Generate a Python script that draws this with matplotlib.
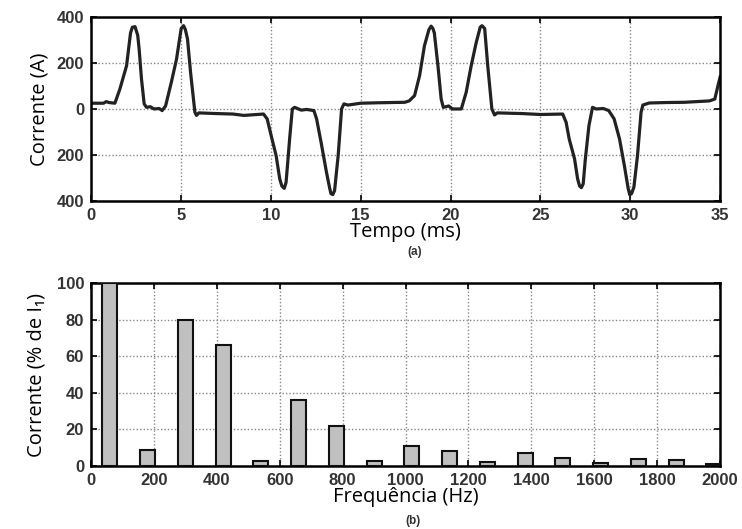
import numpy as np
import matplotlib.pyplot as plt

plt.rcParams['font.family'] = ['Open Sans', 'DejaVu Sans']

# (a) corrente no tempo
tempo_ms = [0.0, 0.7, 0.85, 1.0, 1.33, 1.61, 1.98, 2.2, 2.3, 2.45, 2.6, 2.68, 2.81, 2.96, 3.09,
            3.3, 3.5, 3.8, 3.96, 4.15, 4.47, 4.76, 4.94, 5.02, 5.15, 5.25, 5.37, 5.54, 5.78, 5.87,
            6.0, 7.0, 7.9, 8.5, 9.6, 9.8, 10.0, 10.3, 10.5, 10.62, 10.75, 10.85, 10.9, 11.05, 11.2,
            11.33, 11.7, 12.0, 12.4, 12.55, 12.8, 13.1, 13.28, 13.35, 13.45, 13.55, 13.75, 13.94,
            14.07, 14.3, 15.0, 16.0, 17.45, 17.7, 18.0, 18.28, 18.55, 18.8, 18.92, 19.02, 19.1,
            19.3, 19.48, 19.6, 19.9, 20.1, 20.6, 20.87, 21.15, 21.43, 21.65, 21.75, 21.9, 22.07,
            22.3, 22.45, 22.6, 24.0, 25.0, 26.24, 26.43, 26.6, 26.9, 27.07, 27.18, 27.28, 27.38,
            27.5, 27.7, 27.9, 28.1, 28.5, 28.8, 29.1, 29.4, 29.67, 29.88, 29.97, 30.07, 30.2, 30.4,
            30.6, 30.7, 31.05, 32.0, 33.0, 34.4, 34.7, 34.9, 35.0]
corrente_a = [25, 25, 32, 28, 25, 87, 188, 330, 355, 358, 320, 260, 130, 22, 7,
              10, 0, 2, -7, 13, 116, 217, 310, 350, 362, 345, 304, 159, -14, -28,
              -17, -20, -22, -28, -22, -43, -108, -203, -304, -335, -345, -320, -275, -130, 0,
              7, -5, -2, -7, -43, -145, -275, -345, -368, -372, -355, -203, 0,
              22, 17, 25, 27, 29, 35, 58, 145, 275, 345, 360, 350, 330,
              188, 43, 7, 13, 0, 0, 72, 188, 289, 355, 362, 350, 188,
              0, -26, -17, -20, -24, -22, -58, -130, -217, -304, -335, -342, -325,
              -217, -72, 7, 0, 2, -7, -43, -130, -246, -345, -373, -368, -340, -203,
              -14, 17, 26, 28, 29, 35, 43, 109, 140]

# (b) espectro harmônico
freq_hz = [60, 180, 300, 420, 540, 660, 780, 900, 1020, 1140, 1260, 1380, 1500, 1620, 1740, 1860, 1980]
harm_pct = [100, 9, 80, 66, 2.7, 36, 22, 3, 10.9, 8.0, 2.4, 6.9, 4.6, 1.8, 4.0, 3.3, 1.0]

tick_font = dict(family='Liberation Sans', fontsize=12, fontweight='bold', color='#333333')

fig = plt.figure(figsize=(7.42, 5.29), dpi=100)
ax1 = fig.add_axes([0.1226, 0.62, 0.848, 0.348])
ax2 = fig.add_axes([0.1226, 0.119, 0.848, 0.346])


def style_axes(ax):
    for s in ax.spines.values():
        s.set_linewidth(1.8)
    ax.tick_params(direction='in', top=True, right=True, length=4, width=1.2, pad=5)
    ax.grid(True, linestyle=(0, (1, 1.5)), color='#888888', linewidth=1.0)
    for lab in ax.get_xticklabels() + ax.get_yticklabels():
        lab.set_fontfamily(tick_font['family'])
        lab.set_fontsize(tick_font['fontsize'])
        lab.set_fontweight(tick_font['fontweight'])
        lab.set_color(tick_font['color'])


ax1.plot(tempo_ms, corrente_a, color='#222222', linewidth=2.3)
ax1.set_xlim(0, 35)
ax1.set_ylim(-400, 400)
ax1.set_xticks(range(0, 36, 5))
ax1.set_yticks([-400, -200, 0, 200, 400])
ax1.set_yticklabels(['400', '200', '0', '200', '400'])
style_axes(ax1)
ax1.set_ylabel('Corrente (A)', fontsize=14.5, labelpad=5)
ax1.set_xlabel('Tempo (ms)', fontsize=14.5, labelpad=-1)
fig.text(0.559, 0.518, '(a)', ha='center', fontsize=8.5, family='Liberation Sans',
         fontweight='bold', color='#333333')

ax2.bar(freq_hz, harm_pct, width=48, color='#c0c0c0', edgecolor='#111111', linewidth=1.5,
        zorder=3)
ax2.set_xlim(0, 2000)
ax2.set_ylim(0, 100)
ax2.set_xticks(range(0, 2001, 200))
ax2.set_yticks(range(0, 101, 20))
style_axes(ax2)
ax2.set_ylabel('Corrente (% de I\u2081)', fontsize=14.5, labelpad=7)
ax2.set_xlabel('Frequência (Hz)', fontsize=14.5, labelpad=-1)
fig.text(0.557, 0.003, '(b)', ha='center', va='bottom', fontsize=8.5, family='Liberation Sans',
         fontweight='bold', color='#333333')

fig.savefig('out.png', dpi=100)
